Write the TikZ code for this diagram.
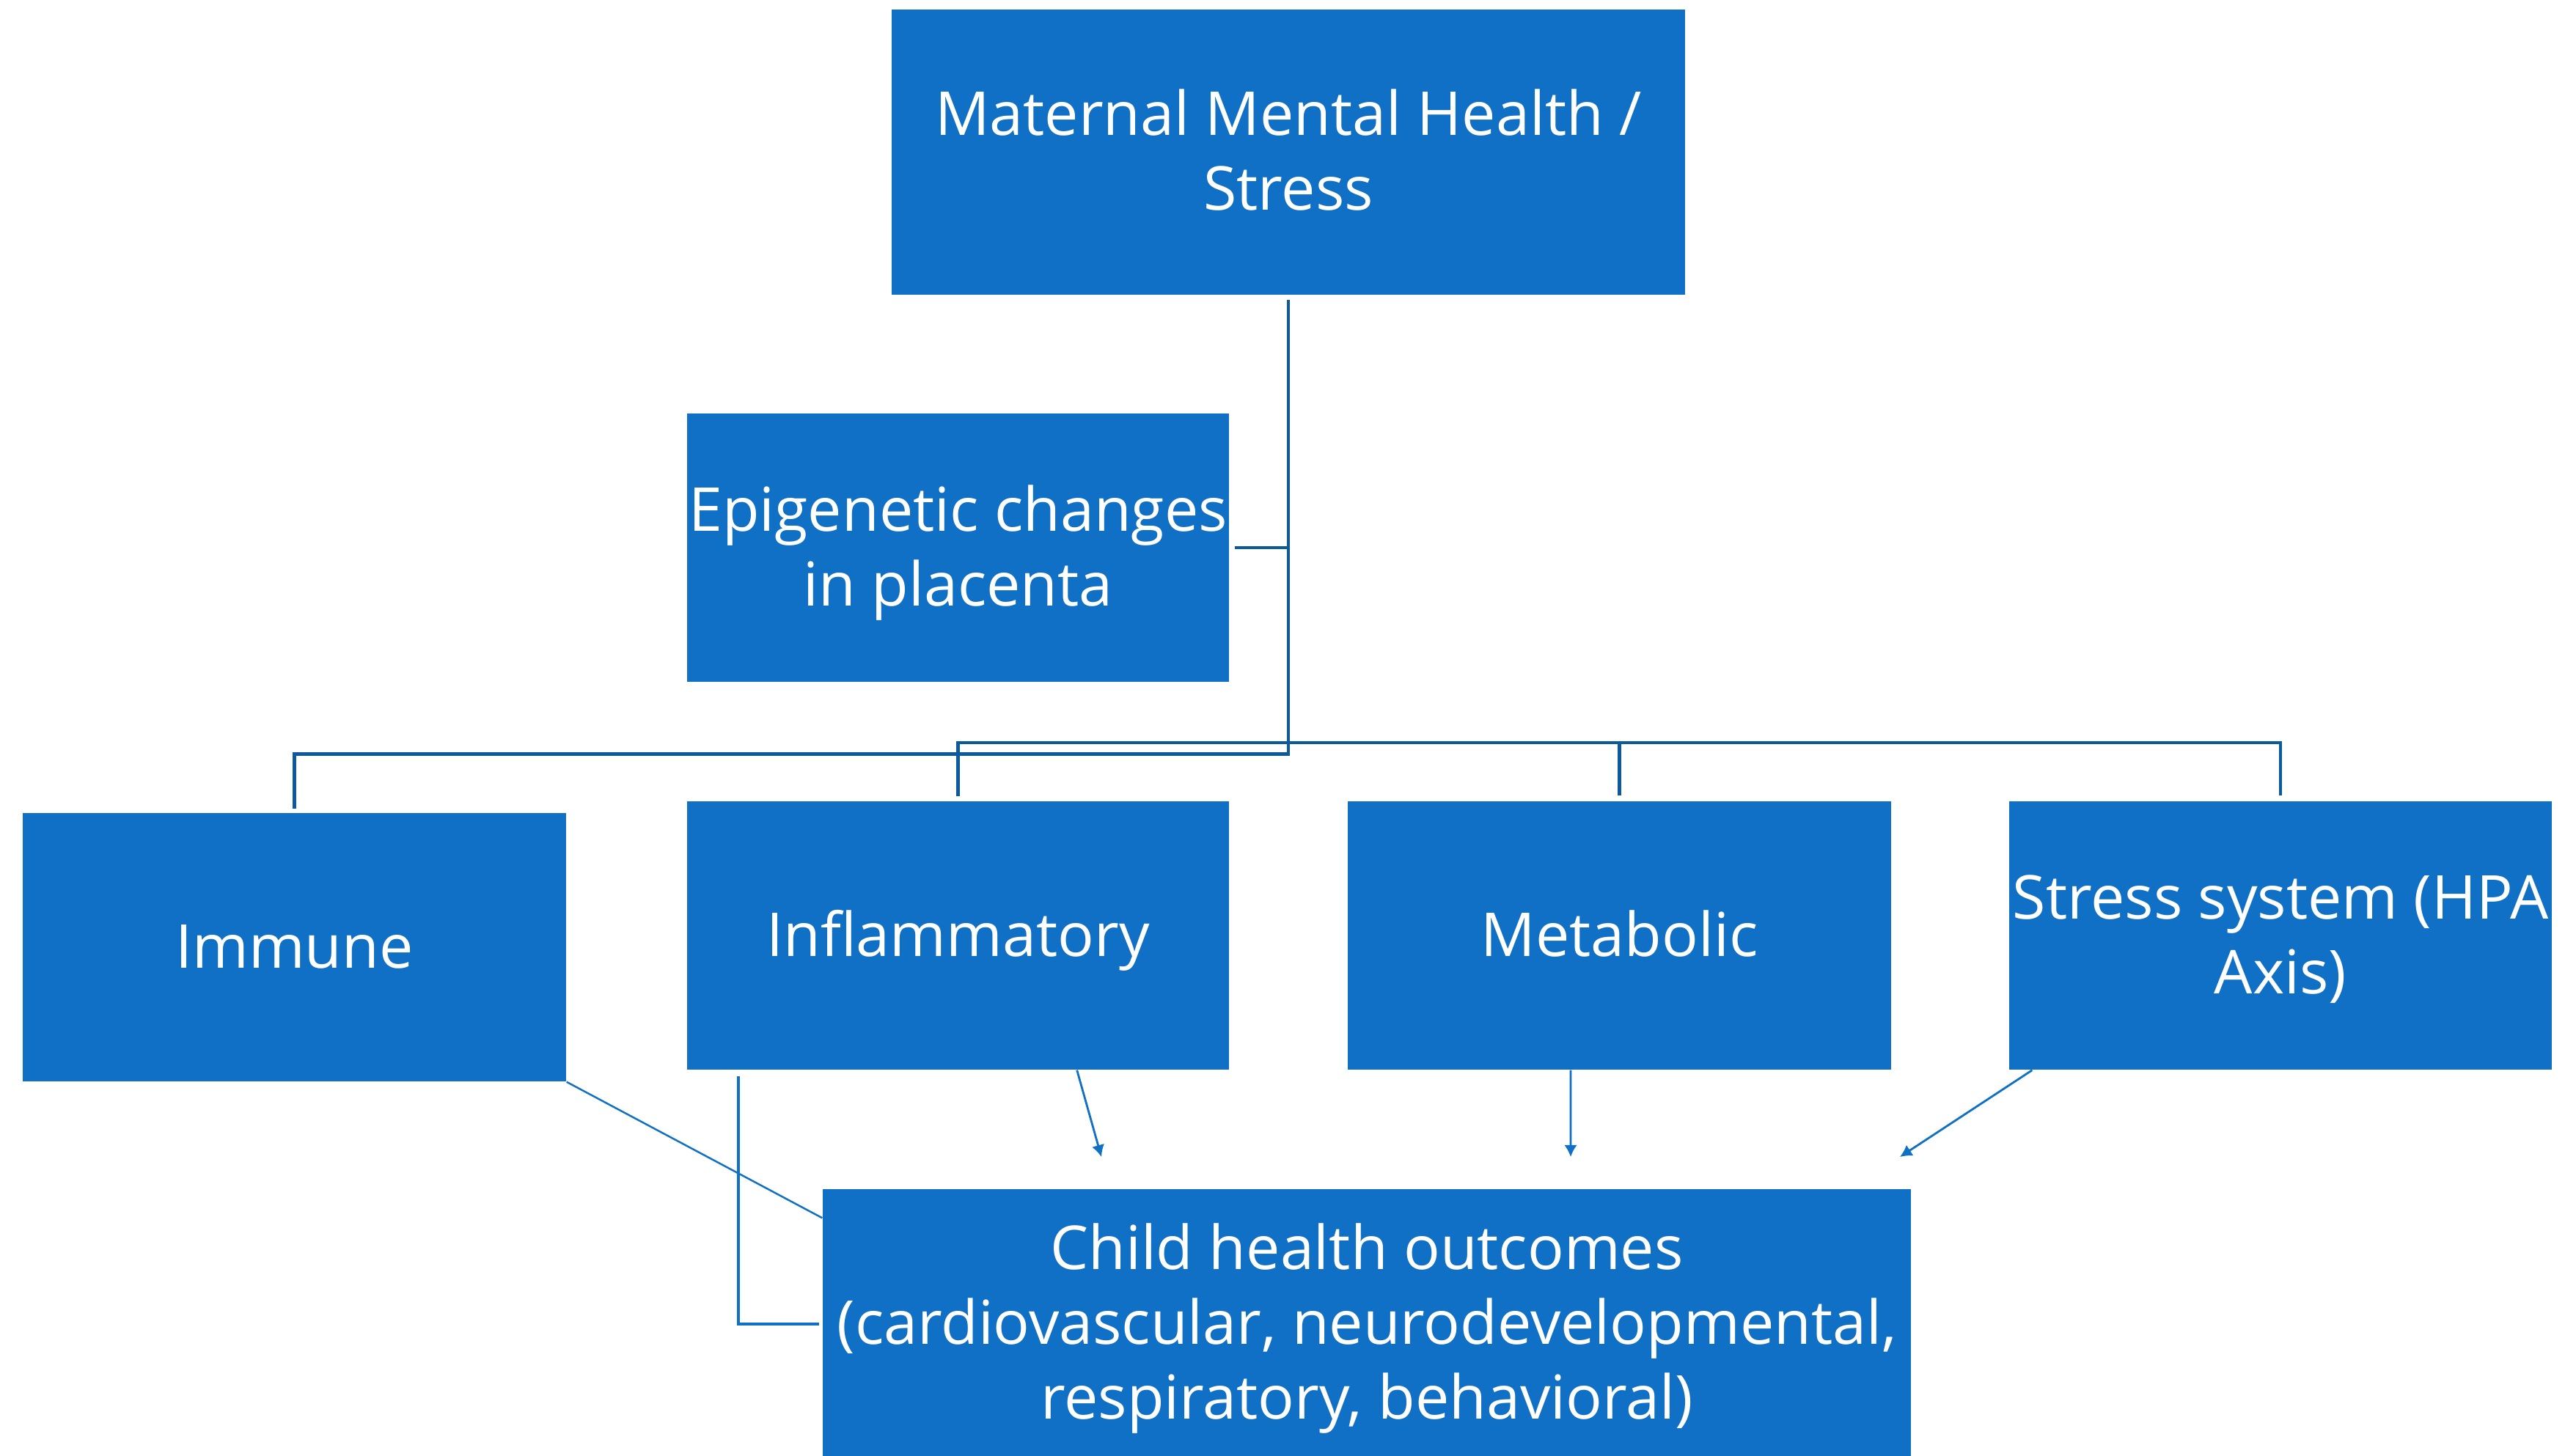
\documentclass[tikz,border=0pt]{standalone}
\usepackage{fontspec}
\setmainfont{Open Sans}
\usetikzlibrary{arrows.meta}
\definecolor{boxblue}{RGB}{16,112,198}
\definecolor{linedark}{RGB}{11,90,160}
\newcommand\boxtext[1]{\raisebox{-2.2pt}[\height][\depth]{\begin{tabular}{@{}c@{}}#1\end{tabular}}}
\begin{document}
\begin{tikzpicture}[
  box/.style={rectangle, fill=boxblue, draw=none, inner sep=0pt, text=white,
    font=\fontsize{23.5}{29}\selectfont},
  bus/.style={draw=linedark, line width=1.3pt},
  elbow/.style={draw=boxblue, line width=1.2pt},
  thinline/.style={draw=boxblue, line width=0.7pt},
  arr/.style={draw=boxblue, line width=0.8pt, -{Latex[length=4.6pt,width=5pt]}}
]
\path[use as bounding box, fill=white] (0,0) rectangle (34.98,-19.86);

\node[box, minimum width=10.82cm, minimum height=3.89cm] (top) at (17.57,-2.075) {\boxtext{Maternal Mental Health /\\Stress}};
\node[box, minimum width=7.39cm, minimum height=3.66cm] (epi) at (13.065,-7.47) {\boxtext{Epigenetic changes\\in placenta}};
\node[box, minimum width=7.41cm, minimum height=3.66cm] (immune) at (4.015,-12.92) {\boxtext{Immune}};
\node[box, minimum width=7.39cm, minimum height=3.66cm] (infl) at (13.065,-12.76) {\boxtext{Inflammatory}};
\node[box, minimum width=7.41cm, minimum height=3.66cm] (meta) at (22.085,-12.76) {\boxtext{Metabolic}};
\node[box, minimum width=7.40cm, minimum height=3.66cm] (stress) at (31.10,-12.76) {\boxtext{Stress system (HPA\\Axis)}};
\node[box, minimum width=14.84cm, minimum height=3.66cm] (child) at (18.64,-18.05) {\boxtext{Child health outcomes\\(cardiovascular, neurodevelopmental,\\respiratory, behavioral)}};

% trunk and immune branch
\draw[bus] ([yshift=-0.06cm]top.south) -- ++(0,-6.20) -| ([yshift=0.05cm]immune.north);
% epigenetic branch
\draw[bus] ([xshift=0.07cm]epi.east) -- (epi.east -| top.south);
% bus to the three other boxes
\coordinate (b) at (0,-10.13);
\draw[bus] ([yshift=0.06cm]infl.north) -- (infl.north |- b) -- (stress.north |- b) -- ([yshift=0.07cm]stress.north);
\draw[bus] (meta.north |- b) -- ([yshift=0.07cm]meta.north);

% immune to child
\draw[thinline] (immune.south east) -- ([yshift=-0.40cm]child.north west);
% inflammatory elbow to child
\draw[elbow] ([xshift=0.71cm,yshift=-0.08cm]infl.south west) |- ([xshift=-0.04cm,yshift=-1.85cm]child.north west);

% free arrows toward child
\coordinate (a1) at (15.02,-15.78);
\coordinate (a2) at (21.42,-15.78);
\coordinate (a3) at (25.91,-15.78);
\draw[arr] ([xshift=-2.08cm]infl.south east) -- (a1);
\draw[arr] ([xshift=-0.665cm]meta.south) -- (a2);
\draw[arr] ([xshift=0.32cm]stress.south west) -- (a3);
\end{tikzpicture}
\end{document}
